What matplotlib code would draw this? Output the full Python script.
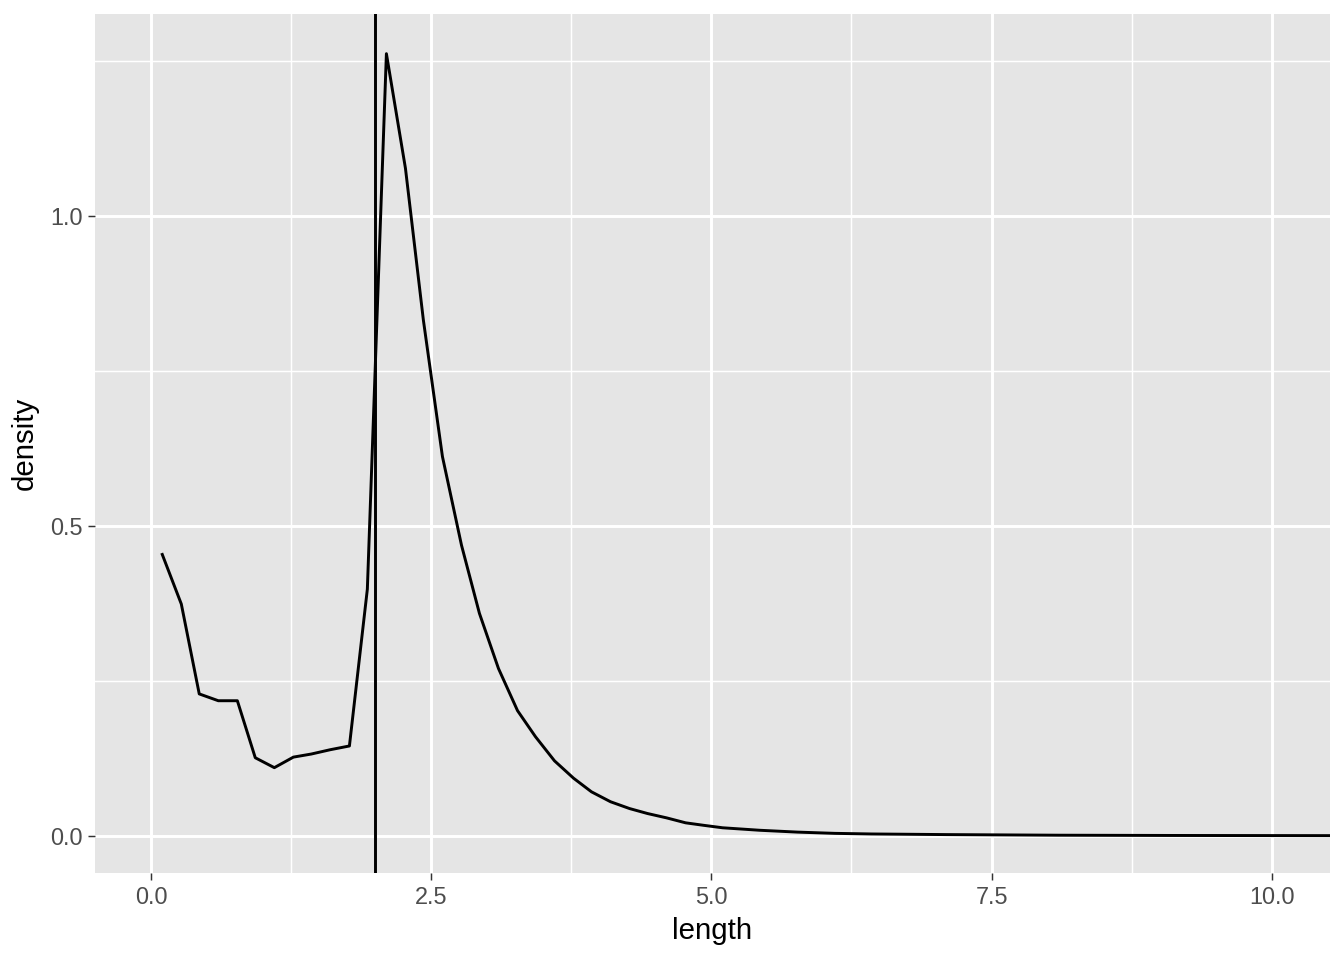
import matplotlib
matplotlib.use("Agg")
import matplotlib.pyplot as plt
from matplotlib.ticker import FixedLocator

# density curve
length = [0.10, 0.27, 0.43, 0.60, 0.77, 0.93, 1.10, 1.27, 1.43, 1.60, 1.77, 1.93,
          2.10, 2.27, 2.43, 2.60, 2.77, 2.93, 3.10, 3.27, 3.43, 3.60, 3.77, 3.93,
          4.10, 4.27, 4.43, 4.60, 4.77, 4.93, 5.10, 5.43, 5.77, 6.10, 6.43, 6.77,
          7.10, 7.60, 8.10, 8.60, 9.10, 9.60, 10.10, 10.60]
density = [0.454, 0.374, 0.229, 0.218, 0.218, 0.126, 0.110, 0.127, 0.132, 0.139, 0.145, 0.398,
           1.262, 1.077, 0.832, 0.612, 0.469, 0.359, 0.270, 0.202, 0.160, 0.121, 0.093, 0.071,
           0.055, 0.044, 0.036, 0.029, 0.021, 0.017, 0.013, 0.009, 0.006, 0.004, 0.003, 0.0025,
           0.002, 0.0015, 0.001, 0.0008, 0.0006, 0.0005, 0.0004, 0.0003]
vline_x = 2.0

x_ticks = [0.0, 2.5, 5.0, 7.5, 10.0]
x_minor = [1.25, 3.75, 6.25, 8.75]
y_ticks = [0.0, 0.5, 1.0]
y_minor = [0.25, 0.75, 1.25]

plt.rcParams['font.family'] = ['Liberation Sans', 'DejaVu Sans']

fig = plt.figure(figsize=(7, 5), dpi=192)
ax = fig.add_axes([0.0707, 0.0906, 0.9896 - 0.0707, 0.9854 - 0.0906])
ax.set_facecolor('#e5e5e5')
for s in ax.spines.values():
    s.set_visible(False)

ax.set_xlim(-0.5, 10.52)
ax.set_ylim(-0.06, 1.326)

ax.xaxis.set_major_locator(FixedLocator(x_ticks))
ax.xaxis.set_minor_locator(FixedLocator(x_minor))
ax.yaxis.set_major_locator(FixedLocator(y_ticks))
ax.yaxis.set_minor_locator(FixedLocator(y_minor))
ax.set_xticklabels([f'{v:.1f}' for v in x_ticks])
ax.set_yticklabels([f'{v:.1f}' for v in y_ticks])

ax.grid(which='major', color='white', linewidth=1.1)
ax.grid(which='minor', color='white', linewidth=0.55)
ax.set_axisbelow(True)

ax.tick_params(which='major', length=2.75, width=0.55, color='#333333',
               labelsize=8.8, labelcolor='#4d4d4d', pad=2)
ax.tick_params(which='minor', length=0)

ax.plot(length, density, color='black', linewidth=1.1, clip_on=True)
ax.axvline(vline_x, color='black', linewidth=1.1)

ax.set_xlabel('length', fontsize=11, labelpad=3)
ax.set_ylabel('density', fontsize=11, labelpad=4)

fig.savefig('out.png', dpi=192)
